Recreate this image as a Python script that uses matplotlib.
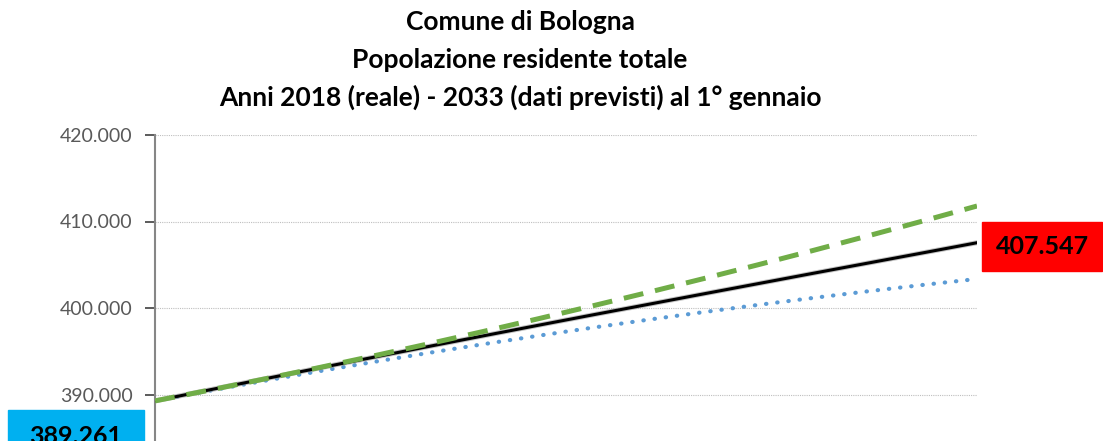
import matplotlib.pyplot as plt
from matplotlib.patches import Rectangle

plt.rcParams['font.family'] = ['Lato', 'DejaVu Sans']

# anni al 1° gennaio
anni = list(range(2018, 2034))

# scenario centrale (linea nera), alto (verde tratteggiata), basso (blu punteggiata)
centrale = [389261, 390540, 391810, 393070, 394320, 395560, 396790, 398010,
            399220, 400420, 401620, 402810, 404000, 405180, 406360, 407547]
alto = [389261, 390511, 391797, 393119, 394477, 395871, 397301, 398767,
        400269, 401807, 403381, 404991, 406637, 408319, 410037, 411791]
basso = [389261, 390441, 391587, 392698, 393775, 394818, 395826, 396800,
         397740, 398646, 399517, 400354, 401157, 401925, 402659, 403359]

titolo = ["Comune di Bologna",
          "Popolazione residente totale",
          "Anni 2018 (reale) - 2033 (dati previsti) al 1° gennaio"]
yticks = [380000, 390000, 400000, 410000, 420000]


def fmt(v):
    return f"{v:,.0f}".replace(",", ".")


W, H = 1103, 441
fig = plt.figure(figsize=(W / 100, H / 100), dpi=100)

# area del grafico: tagliata in basso come nell'originale
left, right, top, bottom = 155, 977, 135, 481
ax = fig.add_axes([left / W, 1 - bottom / H, (right - left) / W, (bottom - top) / H])

ax.plot(anni, basso, color='#5B9BD5', lw=3, linestyle=(0, (0.1, 2.6)),
        dash_capstyle='round', zorder=3)
ax.plot(anni, centrale, color='#9a9a9a', lw=3.6, zorder=4, alpha=0.6)
ax.plot(anni, centrale, color='black', lw=2.2, zorder=5)
ax.plot(anni, alto, color='#70AD47', lw=3.6, linestyle=(0, (4, 2.4)), zorder=6)

ax.set_xlim(anni[0], anni[-1])
ax.set_ylim(yticks[0], yticks[-1])
ax.set_yticks(yticks)
ax.set_yticklabels([fmt(v) for v in yticks], fontsize=14, color='#595959')
ax.set_xticks([])
ax.grid(axis='y', color='#BFBFBF', linestyle=(0, (1, 1)), lw=0.8)
ax.set_axisbelow(True)
for s in ['top', 'right', 'bottom']:
    ax.spines[s].set_visible(False)
ax.spines['left'].set_color('#868686')
ax.spines['left'].set_linewidth(1.5)
ax.tick_params(axis='y', length=7, width=1.2, color='#404040', pad=9)

# titolo su tre righe
for testo, y in zip(titolo, [22, 60, 97]):
    fig.text(520 / W, 1 - y / H, testo, ha='center', va='center',
             fontsize=19, fontweight='bold', color='black')

# etichette valore iniziale e finale
fig.patches.append(Rectangle((8 / W, 1 - 459 / H), 136 / W, 49 / H,
                             transform=fig.transFigure, color='#00B0F0', zorder=0))
fig.text(76 / W, 1 - 436 / H, fmt(centrale[0]), ha='center', va='center',
         fontsize=18, fontweight='bold', color='black')
fig.patches.append(Rectangle((982 / W, 1 - 271 / H), 120 / W, 49 / H,
                             transform=fig.transFigure, color='#FF0000', zorder=0))
fig.text(1042 / W, 1 - 247 / H, fmt(centrale[-1]), ha='center', va='center',
         fontsize=18, fontweight='bold', color='black')

fig.savefig('out.png', dpi=100)
